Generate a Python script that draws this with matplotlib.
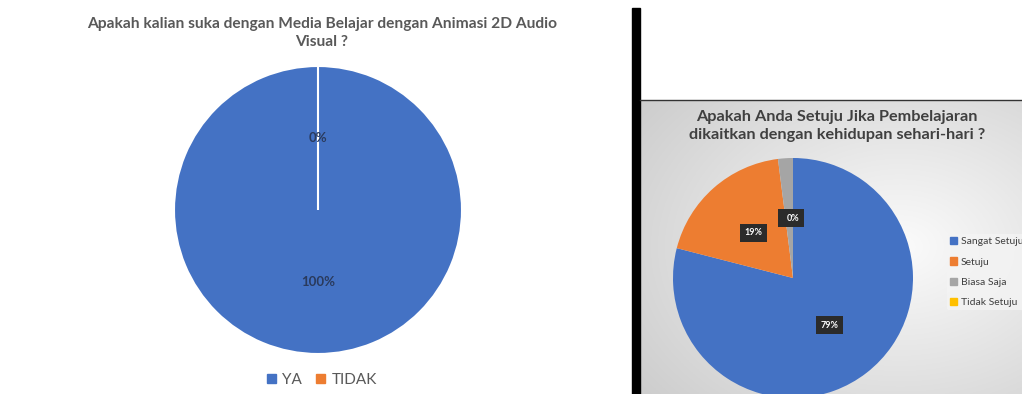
import numpy as np
import matplotlib.pyplot as plt
from matplotlib.patches import Patch

W, H = 1022, 394

# left chart data
left_title = "Apakah kalian suka dengan Media Belajar dengan Animasi 2D Audio\nVisual ?"
left_labels = ["YA", "TIDAK"]
left_values = [100, 0]
left_colors = ["#4472c4", "#ed7d31"]

# right chart data
right_title = "Apakah Anda Setuju Jika Pembelajaran\ndikaitkan dengan kehidupan sehari-hari ?"
right_labels = ["Sangat Setuju", "Setuju", "Biasa Saja", "Tidak Setuju"]
right_values = [79, 19, 2, 0]
right_colors = ["#4472c4", "#ed7d31", "#a5a5a5", "#ffc000"]

plt.rcParams['font.family'] = ['Lato', 'DejaVu Sans']

fig = plt.figure(figsize=(W / 100, H / 100), dpi=100)
fig.patch.set_facecolor("white")


def px_axes(x0, y0, x1, y1, **kw):
    # axes placed with pixel box (top-left origin)
    return fig.add_axes([x0 / W, 1 - y1 / H, (x1 - x0) / W, (y1 - y0) / H], **kw)


# ---------- left panel ----------
axl = px_axes(174, 66, 462, 354)
wedges, _, autotexts = axl.pie(left_values, colors=left_colors, startangle=90,
                               counterclock=False, autopct='%.0f%%', pctdistance=0.5,
                               wedgeprops=dict(edgecolor="white", linewidth=1.5))
for t in autotexts:
    t.set_color("#2a3a5c")
    t.set_fontsize(9.5)
    t.set_fontweight("bold")
axl.set_xlim(-1, 1)
axl.set_ylim(-1, 1)
axl.axis("off")
fig.text(322 / W, 1 - 33 / H, left_title, ha="center", va="center", fontsize=11.2,
         fontweight="bold", color="#595959", linespacing=1.45)
fig.legend([Patch(color=c) for c in left_colors], left_labels, loc="center",
           bbox_to_anchor=(322 / W, 1 - 380 / H), ncol=2, frameon=False,
           fontsize=11, labelcolor="#595959", handlelength=0.6, handleheight=0.6,
           handletextpad=0.4, columnspacing=0.9)

# ---------- right panel ----------
axb = px_axes(640, 100, W, H)
yy, xx = np.mgrid[0:1:200j, 0:1:260j]
d = np.sqrt(((xx - 0.68) / 0.9) ** 2 + ((yy - 0.5) / 0.85) ** 2)
shade = np.clip(0.985 - 0.19 * d, 0.8, 1.0)
axb.imshow(np.dstack([shade, shade, shade]), extent=[0, 1, 0, 1], aspect="auto")
axb.set_xlim(0, 1)
axb.set_ylim(0, 1)
axb.axis("off")

# border line on top of the screenshot panel and the black bar
fig.add_artist(plt.Line2D([640 / W, 1], [1 - 100 / H, 1 - 100 / H], color="#333333", lw=1))
fig.add_artist(plt.Rectangle((632 / W, 0), 8 / W, 1 - 8 / H, color="black"))

axr = px_axes(673, 158, 913, 398)
wedges, _, autotexts = axr.pie(right_values, colors=right_colors, startangle=90,
                               counterclock=False, autopct='%.0f%%', pctdistance=0.5,
                               wedgeprops=dict(edgecolor="none"))
for t in autotexts:
    t.set_color("white")
    t.set_fontsize(6.5)
    t.set_fontweight("bold")
    t.set_bbox(dict(boxstyle="square,pad=0.5", fc="#2b2b2b", ec="none"))
axr.set_xlim(-1, 1)
axr.set_ylim(-1, 1)
axr.axis("off")

fig.text(837 / W, 1 - 126 / H, right_title, ha="center", va="center", fontsize=11.7,
         fontweight="bold", color="#404040", linespacing=1.35)
leg = fig.legend([Patch(color=c) for c in right_colors], right_labels, loc="upper left",
                 bbox_to_anchor=(947 / W, 1 - 234 / H), frameon=True, fontsize=7.5,
                 labelcolor="#404040", handlelength=0.7, handleheight=0.7,
                 handletextpad=0.3, labelspacing=1.05, borderpad=0.3, borderaxespad=0)
leg.get_frame().set_facecolor("#f4f4f4")
leg.get_frame().set_edgecolor("none")
leg.get_frame().set_alpha(0.8)

fig.savefig("out.png", dpi=100)
